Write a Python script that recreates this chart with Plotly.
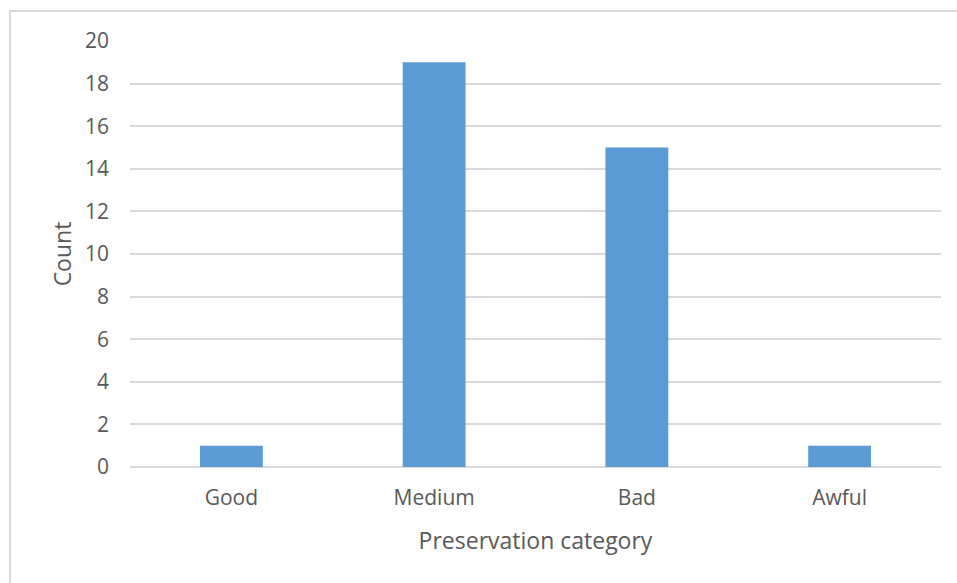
import plotly.graph_objects as go

categories = ["Good", "Medium", "Bad", "Awful"]
counts = [1, 19, 15, 1]
y_ticks = list(range(0, 21, 2))

W, H = 957, 583
L, R, T, B = 130, 16, 41, 116
pw, ph = W - L - R, H - T - B

def px_x(x):
    return (x - L) / pw

def px_y(y):
    return (H - B - y) / ph

fig = go.Figure(go.Bar(x=categories, y=counts, marker=dict(color="#5B9BD5", line=dict(width=0))))

fig.update_layout(
    width=W, height=H,
    margin=dict(l=L, r=R, t=T, b=B),
    paper_bgcolor="white", plot_bgcolor="white",
    bargap=0.69,
    font=dict(family="Open Sans, DejaVu Sans, sans-serif", color="#595959", size=21),
    showlegend=False,
    xaxis=dict(
        title=dict(text="Preservation category", font=dict(size=23, color="#595959"), standoff=22),
        showgrid=False, showline=False, ticks="", tickfont=dict(size=21),
        ticklabelstandoff=16,
    ),
    yaxis=dict(
        title=dict(text="Count", font=dict(size=23, color="#595959"), standoff=6),
        range=[0, 20], tickvals=y_ticks, showgrid=True, gridcolor="#D9D9D9", gridwidth=1.5,
        zeroline=True, zerolinecolor="#D9D9D9", zerolinewidth=1.5,
        showline=False, ticks="", ticklabelstandoff=20, tickfont=dict(size=21),
    ),
    shapes=[dict(type="rect", xref="paper", yref="paper",
                 x0=px_x(10), x1=px_x(970), y0=px_y(600), y1=px_y(11),
                 line=dict(color="#D9D9D9", width=2), fillcolor="rgba(0,0,0,0)", layer="below")],
)

fig.write_html("out.html")
